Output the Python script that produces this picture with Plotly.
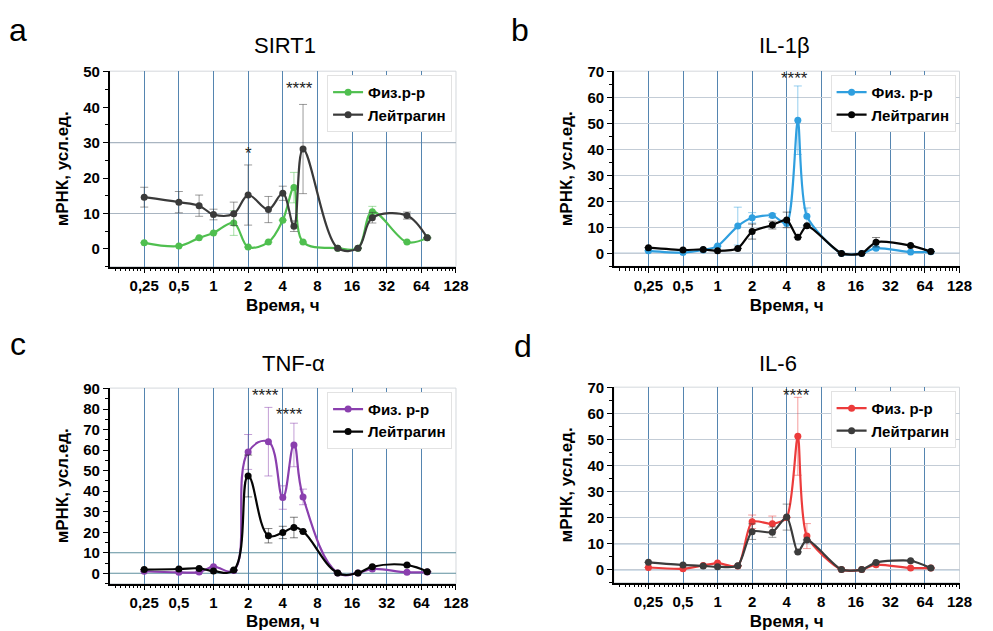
import plotly.graph_objects as go
import math

# ---------------- data ----------------
TIME_H = [0.25, 0.5, 0.75, 1, 1.5, 2, 3, 4, 5, 6, 12, 18, 24, 48, 72]
X_TICK_VALUES = [0.25, 0.5, 1, 2, 4, 8, 16, 32, 64, 128]
X_TICK_LABELS = ["0,25", "0,5", "1", "2", "4", "8", "16", "32", "64", "128"]

PANEL_LETTERS = ["a", "b", "c", "d"]
PANEL_TITLES = ["SIRT1", "IL-1β", "TNF-α", "IL-6"]
X_TITLE = "Время, ч"
Y_TITLE = "мРНК, усл.ед."
SALINE_NAMES = ["Физ.р-р", "Физ. р-р", "Физ. р-р", "Физ. р-р"]
DRUG_NAME = "Лейтрагин"

SIRT1_SALINE = [1.7, 0.8, 3.1, 4.5, 7.3, 0.5, 1.9, 8.1, 17.3, 1.9, 0.2, 0.2, 10.5, 1.9, 3.1]
SIRT1_SALINE_ERR = [0, 0, 0, 0, 3.5, 0, 0, 0, 4.3, 0, 0, 0, 1.5, 0, 0]
SIRT1_DRUG = [14.6, 13.2, 12.2, 9.7, 9.9, 15.2, 11.1, 15.7, 6.4, 28.2, 0.2, 0.2, 8.8, 9.4, 3.1]
SIRT1_DRUG_ERR = [2.8, 3.0, 3.0, 1.5, 3.3, 8.5, 3.7, 2.0, 1.5, 12.6, 0, 0, 1.5, 1.0, 0]

IL1B_SALINE = [1.0, 0.3, 1.3, 2.8, 10.5, 13.7, 14.6, 11.5, 51.3, 14.3, 0.0, 0.0, 2.0, 0.5, 0.6]
IL1B_SALINE_ERR = [0, 0, 0, 0, 7.3, 2.0, 0.8, 0, 13.2, 3.2, 0, 0, 0, 0, 0]
IL1B_DRUG = [2.2, 1.3, 1.5, 1.0, 1.9, 8.4, 10.9, 12.9, 6.2, 10.6, 0.0, 0.0, 4.3, 3.0, 0.7]
IL1B_DRUG_ERR = [0, 0, 0, 0, 0, 2.9, 1.5, 3.0, 0, 0, 0, 0, 1.8, 0, 0]

TNFA_SALINE = [1.0, 0.5, 0.6, 3.2, 1.4, 59.1, 64.1, 36.9, 62.5, 37.2, 0.2, 0.2, 2.1, 0.5, 0.6]
TNFA_SALINE_ERR = [0, 0, 0, 0, 0, 8.5, 16.7, 5.7, 10.6, 3.8, 0, 0, 0, 0, 0]
TNFA_DRUG = [1.8, 2.1, 2.4, 1.1, 1.6, 47.4, 18.3, 19.9, 22.3, 20.4, 0.2, 0.2, 3.2, 4.0, 0.8]
TNFA_DRUG_ERR = [0, 0, 0, 0, 0, 10.2, 3.5, 3.0, 5.0, 0, 0, 0, 0, 0, 0]

IL6_SALINE = [0.8, 0.3, 1.6, 2.5, 1.4, 18.4, 17.6, 20.0, 51.3, 12.9, 0.0, 0.0, 1.9, 0.6, 0.6]
IL6_SALINE_ERR = [0, 0, 0, 0, 0, 2.6, 3.0, 0, 15.0, 4.8, 0, 0, 0, 0, 0]
IL6_DRUG = [2.8, 1.8, 1.4, 1.1, 1.5, 14.6, 14.4, 20.2, 6.8, 11.4, 0.0, 0.0, 2.7, 3.4, 0.6]
IL6_DRUG_ERR = [0, 0, 0, 0, 0, 3.0, 2.0, 5.0, 0, 0, 0, 0, 0, 0, 0]

Y_MAX = [50, 70, 90, 70]
Y_MIN = [-5, -5, -5, -5]

# significance marks: (text, time, y)
STARS_A = [("*", 2, 27.0), ("****", 5.6, 45.2)]
STARS_B = [("****", 4.7, 67.5)]
STARS_C = [("****", 2.85, 86.8), ("****", 4.6, 77.5)]
STARS_D = [("****", 4.9, 67.0)]

# ---------------- style ----------------
FONT = "Liberation Sans, Arial, sans-serif"
SALINE_COLORS = ["#4fbf4f", "#2f9fdf", "#8a3fae", "#ec3b3b"]
DRUG_COLORS = ["#3a3a3a", "#050505", "#050505", "#3c3c3c"]
SMOOTH = [1.0, 0.7, 1.2, 0.7]
VGRID = "#5585b0"

# plot-area domains (paper fractions)
XDOM = [[0.1118, 0.4653], [0.6264, 0.9791], [0.1118, 0.4653], [0.6264, 0.9791]]
YDOM = [[0.5850, 0.8986], [0.5853, 0.8986], [0.0761, 0.3899], [0.0777, 0.3914]]
TITLE_POS = [(0.2910, 0.9398), (0.8006, 0.9398), (0.2991, 0.4295), (0.7936, 0.4295)]
LETTER_POS = [(0.0181, 0.9651), (0.5307, 0.9651), (0.0181, 0.4612), (0.5337, 0.4580)]

def rgba(hexc, a):
    h = hexc.lstrip("#")
    return "rgba(%d,%d,%d,%.2f)" % (int(h[0:2], 16), int(h[2:4], 16), int(h[4:6], 16), a)

def minor_vals():
    vals = []
    a = 0.125
    while a < 128:
        for k in range(1, 8):
            vals.append(a * (1 + k / 8))
        a *= 2
    return vals

panels = [
    (SIRT1_SALINE, SIRT1_SALINE_ERR, SIRT1_DRUG, SIRT1_DRUG_ERR, STARS_A),
    (IL1B_SALINE, IL1B_SALINE_ERR, IL1B_DRUG, IL1B_DRUG_ERR, STARS_B),
    (TNFA_SALINE, TNFA_SALINE_ERR, TNFA_DRUG, TNFA_DRUG_ERR, STARS_C),
    (IL6_SALINE, IL6_SALINE_ERR, IL6_DRUG, IL6_DRUG_ERR, STARS_D),
]

fig = go.Figure()
layout = dict(
    width=993, height=631, margin=dict(l=0, r=0, t=0, b=0),
    paper_bgcolor="white", plot_bgcolor="white",
    font=dict(family=FONT, color="black"),
)
annotations = []
shapes = []

for i, (sal, sal_e, drg, drg_e, stars) in enumerate(panels):
    n = "" if i == 0 else str(i + 1)
    xa, ya = "x" + n, "y" + n
    leg = "legend" + n
    for name, vals, errs, col in [
        (SALINE_NAMES[i], sal, sal_e, SALINE_COLORS[i]),
        (DRUG_NAME, drg, drg_e, DRUG_COLORS[i]),
    ]:
        fig.add_trace(go.Scatter(
            x=TIME_H, y=vals, name=name, mode="lines+markers",
            xaxis=xa, yaxis=ya, legend=leg,
            line=dict(color=col, width=2.2, shape="spline", smoothing=SMOOTH[i]),
            marker=dict(color=col, size=7),
            error_y=dict(type="data", array=errs, visible=True,
                         color=rgba(col, 0.5), thickness=1, width=4),
        ))

    xkey = "xaxis" + n
    ykey = "yaxis" + n
    layout[xkey] = dict(
        type="log", domain=XDOM[i], anchor=ya,
        range=[math.log10(0.125), math.log10(128)],
        tickmode="array", tickvals=X_TICK_VALUES, ticktext=X_TICK_LABELS,
        ticks="outside", ticklen=5, tickwidth=1.2, tickcolor="black",
        showline=True, linecolor="black", linewidth=1.5,
        showgrid=True, gridcolor=VGRID, gridwidth=1.1, zeroline=False,
        tickfont=dict(size=15, family=FONT, weight="bold"),
        minor=dict(tickmode="array", tickvals=minor_vals(), ticks="outside",
                   ticklen=3, tickcolor="black", tickwidth=1, showgrid=False),
        title=dict(text=X_TITLE, font=dict(size=17, family=FONT, weight="bold"), standoff=6),
    )
    ygrid = i in (1, 3)
    layout[ykey] = dict(
        domain=YDOM[i], anchor=xa, range=[Y_MIN[i], Y_MAX[i] + 0.2],
        tickmode="linear", tick0=0, dtick=10,
        ticks="outside", ticklen=5, tickwidth=1.2, tickcolor="black",
        showline=True, linecolor="black", linewidth=1.5,
        showgrid=ygrid, gridcolor="#c3ccd6", gridwidth=1, zeroline=False,
        tickfont=dict(size=15, family=FONT, weight="bold"),
        minor=dict(dtick=5, ticks="outside", ticklen=3, tickcolor="black", showgrid=False),
        title=dict(text=Y_TITLE, font=dict(size=17, family=FONT, weight="bold"), standoff=10),
    )

    # light frame
    shapes.append(dict(type="rect", xref=xa + " domain", yref=ya + " domain",
                       x0=0, x1=1, y0=0, y1=1, line=dict(color="#d4d8dc", width=1),
                       layer="below"))

    # emphasized horizontal lines
    hl = {0: [10, 30], 1: [0], 2: [0, 10], 3: [0, 10]}[i]
    hcol = {0: "#a9b5c1", 1: "#6f93b3", 2: "#5e8f9e", 3: "#4f7fa8"}[i]
    for v in hl:
        shapes.append(dict(type="line", xref=xa + " domain", yref=ya, x0=0, x1=1,
                           y0=v, y1=v, line=dict(color=hcol, width=1.1), layer="below"))

    # legend
    layout[leg] = dict(
        x=XDOM[i][1] - 0.004, y=YDOM[i][1] - 0.006, xanchor="right", yanchor="top",
        xref="paper", yref="paper",
        bgcolor="white", bordercolor="#e2e2e2", borderwidth=1,
        font=dict(size=15, family=FONT, weight="bold", color="black"),
        tracegroupgap=0, itemwidth=30,
    )

    # stars
    for txt, tx, ty in stars:
        annotations.append(dict(text=txt, x=math.log10(tx), y=ty, xref=xa, yref=ya,
                                showarrow=False, font=dict(size=17, family=FONT, color="#222"),
                                yanchor="middle"))

    # titles and letters
    annotations.append(dict(text=PANEL_TITLES[i], x=TITLE_POS[i][0], y=TITLE_POS[i][1],
                            xref="paper", yref="paper", showarrow=False,
                            xanchor="center", yanchor="middle",
                            font=dict(size=22, family=FONT, color="black")))
    annotations.append(dict(text=PANEL_LETTERS[i], x=LETTER_POS[i][0], y=LETTER_POS[i][1],
                            xref="paper", yref="paper", showarrow=False,
                            xanchor="center", yanchor="middle",
                            font=dict(size=32, family=FONT, color="black")))

layout["annotations"] = annotations
layout["shapes"] = shapes
fig.update_layout(**layout)
fig.write_html(
    "out.html",
    config={"displayModeBar": False},
    post_script="document.body.style.margin='0px';document.body.style.overflow='hidden';",
)
